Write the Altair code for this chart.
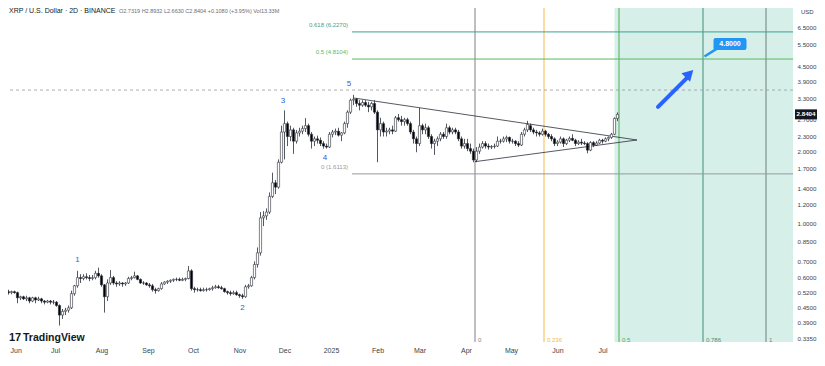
import altair as alt
import pandas as pd

# ---------------- data ----------------
candle_start = "2024-05-27"   # 2D candles

opens = [.535,.530,.525,.520,.525,.520,.495,.500,.490,.495,
         .480,.495,.485,.490,.480,.475,.480,.475,.475,.460,
         .420,.435,.440,.450,.515,.555,.600,.595,.605,.600,
         .595,.600,.625,.610,.560,.500,.570,.600,.570,.565,
         .570,.565,.570,.595,.600,.610,.590,.570,.570,.560,
         .555,.535,.530,.540,.565,.575,.580,.585,.590,.590,
         .585,.590,.595,.640,.540,.535,.535,.530,.535,.535,
         .540,.545,.550,.545,.540,.525,.520,.515,.520,.510,
         .505,.500,.550,.555,.600,.680,.760,1.06,1.08,1.12,
         1.30,1.48,1.42,1.80,2.40,2.60,2.30,2.45,2.20,2.38,
         2.42,2.48,2.55,2.35,2.20,2.25,2.22,2.15,2.10,2.08,
         2.35,2.40,2.42,2.33,2.38,2.60,2.90,3.25,3.28,3.15,
         3.10,3.18,3.10,3.05,3.15,2.90,2.45,2.60,2.40,2.42,
         2.45,2.42,2.75,2.70,2.65,2.70,2.60,2.40,2.25,2.15,
         2.55,2.45,2.50,2.30,2.15,2.20,2.25,2.35,2.30,2.50,
         2.40,2.45,2.40,2.25,2.10,2.15,2.05,2.00,1.84,2.00,
         2.08,2.15,2.10,2.08,2.09,2.10,2.20,2.20,2.25,2.28,
         2.20,2.20,2.15,2.12,2.35,2.45,2.55,2.45,2.40,2.38,
         2.35,2.42,2.35,2.30,2.25,2.15,2.18,2.25,2.15,2.22,
         2.26,2.22,2.15,2.18,2.16,2.15,2.02,2.17,2.12,2.16,
         2.22,2.20,2.25,2.28,2.35,2.7319]
highs = [.545,.540,.535,.530,.530,.525,.505,.505,.505,.500,
         .500,.500,.500,.495,.485,.485,.485,.485,.480,.465,
         .445,.450,.460,.530,.560,.640,.620,.620,.625,.615,
         .615,.640,.660,.620,.565,.590,.645,.610,.580,.580,
         .575,.575,.605,.610,.635,.615,.595,.580,.575,.570,
         .565,.545,.545,.575,.580,.585,.590,.595,.600,.600,
         .600,.600,.670,.650,.550,.545,.545,.545,.545,.545,
         .555,.560,.560,.555,.545,.530,.530,.530,.530,.515,
         .515,.560,.565,.610,.700,.800,1.12,1.13,1.16,1.35,
         1.63,1.52,1.85,2.55,2.95,2.65,2.55,2.50,2.45,2.50,
         2.55,2.74,2.60,2.40,2.30,2.32,2.28,2.20,2.15,2.40,
         2.45,2.48,2.50,2.40,2.65,2.95,3.30,3.42,3.32,3.25,
         3.25,3.25,3.20,3.20,3.25,2.95,2.75,2.65,2.50,2.50,
         2.55,2.80,2.85,2.80,2.75,2.75,2.65,2.45,2.30,3.02,
         2.60,2.60,2.55,2.35,2.25,2.30,2.40,2.40,2.60,2.55,
         2.50,2.50,2.45,2.30,2.25,2.25,2.15,2.05,2.08,2.15,
         2.20,2.20,2.15,2.12,2.15,2.30,2.25,2.30,2.32,2.30,
         2.25,2.22,2.20,2.40,2.50,2.67,2.60,2.50,2.45,2.42,
         2.48,2.45,2.38,2.35,2.28,2.22,2.30,2.28,2.25,2.30,
         2.35,2.25,2.22,2.25,2.20,2.18,2.20,2.20,2.20,2.25,
         2.25,2.28,2.30,2.38,2.76,2.8932]
lows = [.525,.515,.510,.512,.515,.470,.485,.485,.480,.470,
        .475,.470,.480,.470,.465,.470,.465,.465,.455,.380,
        .405,.420,.430,.445,.505,.545,.570,.585,.590,.580,
        .585,.590,.600,.550,.430,.480,.560,.560,.550,.555,
        .550,.555,.565,.585,.595,.585,.565,.560,.555,.545,
        .525,.515,.525,.535,.560,.565,.570,.575,.580,.580,
        .580,.580,.590,.530,.520,.525,.525,.525,.525,.530,
        .530,.540,.540,.535,.520,.510,.505,.510,.505,.495,
        .490,.495,.540,.550,.590,.660,.740,.980,1.04,1.10,
        1.28,1.33,1.40,1.78,1.85,2.10,2.20,1.95,2.15,2.30,
        2.35,2.40,2.30,2.05,2.10,2.15,2.10,2.05,2.05,2.06,
        2.28,2.33,2.30,2.20,2.35,2.50,2.85,3.10,3.05,2.95,
        3.05,3.05,2.90,2.95,2.85,1.80,2.30,2.30,2.30,2.35,
        2.35,2.40,2.65,2.55,2.55,2.55,2.35,2.15,1.98,2.10,
        2.35,2.35,2.25,2.05,1.93,2.10,2.20,2.25,2.25,2.35,
        2.35,2.35,2.20,2.05,2.05,2.00,1.95,1.80,1.80,1.95,
        2.05,2.05,2.03,2.04,2.05,2.08,2.15,2.17,2.18,2.15,
        2.15,2.10,2.08,2.10,2.30,2.40,2.40,2.35,2.30,2.30,
        2.32,2.30,2.25,2.20,2.10,2.10,2.15,2.08,2.12,2.18,
        2.20,2.10,2.12,2.12,2.12,1.96,2.00,2.08,2.10,2.14,
        2.15,2.18,2.20,2.25,2.33,2.6630]
closes = [.530,.525,.520,.525,.520,.495,.500,.490,.495,.480,
          .495,.485,.490,.480,.475,.480,.475,.475,.460,.420,
          .435,.440,.450,.515,.555,.600,.595,.605,.600,.595,
          .600,.625,.610,.560,.500,.570,.600,.570,.565,.570,
          .565,.570,.595,.600,.610,.590,.570,.570,.560,.555,
          .535,.530,.540,.565,.575,.580,.585,.590,.590,.585,
          .590,.595,.640,.540,.535,.535,.530,.535,.535,.540,
          .545,.550,.545,.540,.525,.520,.515,.520,.510,.505,
          .500,.550,.555,.600,.680,.760,1.06,1.08,1.12,1.30,
          1.48,1.42,1.80,2.40,2.60,2.30,2.45,2.20,2.38,2.42,
          2.48,2.55,2.35,2.20,2.25,2.22,2.15,2.10,2.08,2.35,
          2.40,2.42,2.33,2.38,2.60,2.90,3.25,3.28,3.15,3.10,
          3.18,3.10,3.05,3.15,2.90,2.45,2.60,2.40,2.42,2.45,
          2.42,2.75,2.70,2.65,2.70,2.60,2.40,2.25,2.15,2.55,
          2.45,2.50,2.30,2.15,2.20,2.25,2.35,2.30,2.50,2.40,
          2.45,2.40,2.25,2.10,2.15,2.05,2.00,1.84,2.00,2.08,
          2.15,2.10,2.08,2.09,2.10,2.20,2.20,2.25,2.28,2.20,
          2.20,2.15,2.12,2.35,2.45,2.58,2.45,2.40,2.38,2.35,
          2.42,2.35,2.30,2.25,2.15,2.18,2.25,2.15,2.22,2.26,
          2.22,2.15,2.18,2.16,2.15,2.02,2.17,2.12,2.16,2.22,
          2.20,2.25,2.28,2.35,2.73,2.8404]

y_ticks = [0.335, 0.39, 0.45, 0.52, 0.6, 0.7, 0.85, 1.0, 1.2, 1.4,
           1.7, 2.0, 2.3, 2.7, 3.3, 3.9, 4.5, 5.5, 6.5]
month_ticks = [(2024, m) for m in range(6, 13)] + [(2025, m) for m in range(1, 8)]

fib_time_levels = ["0", "0.236", "0.5", "0.786", "1"]
fib_time_dates = ["2025-04-07", "2025-05-23", "2025-07-12", "2025-09-06", "2025-10-18"]
fib_time_colors = ["#808080", "#f6b94a", "#4caf50", "#3f8f77", "#6f7f7a"]

fib_price_labels = ["0.618 (6.2270)", "0.5 (4.8104)", "0 (1.6113)"]
fib_price_values = [6.2270, 4.8104, 1.6113]
fib_price_colors = ["#3aa394", "#5cb85c", "#9598a1"]
fib_price_start = "2025-01-15"

ath_level = 3.58

tri_start_dates = ["2025-01-16", "2025-04-07"]
tri_start_prices = [3.32, 1.81]
tri_apex_date = "2025-07-24"
tri_apex_price = 2.225

wave_text = ["1", "2", "3", "4", "5"]
wave_dates = ["2024-07-16", "2024-11-03", "2024-11-30", "2024-12-28", "2025-01-13"]
wave_prices = [0.71, 0.449, 3.23, 1.875, 3.79]

shade_start = "2025-07-09"
far_right = "2026-03-01"   # drawings extended to the right edge (clipped)

arrow_dates = ["2025-08-07", "2025-08-27"]
arrow_prices = [3.05, 4.06]
arrow_head_date = "2025-08-28"
arrow_head_price = 4.18

target_text = "4.8000"
target_box_dates = ["2025-09-13", "2025-10-05"]
target_box_prices = [5.88, 5.24]
target_text_date = "2025-09-24"
target_text_price = 5.56
target_ptr_dates = ["2025-09-15", "2025-09-07"]
target_ptr_prices = [5.30, 4.93]

last_close_text = "2.8404"
header_main = "XRP / U.S. Dollar · 2D · BINANCE"
header_ohlc = "O2.7319 H2.8932 L2.6630 C2.8404 +0.1080 (+3.95%) Vol13.33M"

# ---------------- chart ----------------
W, H = 785, 334
FONT = "Liberation Sans"

dates = pd.date_range(candle_start, periods=len(closes), freq="2D").strftime("%Y-%m-%d").tolist()
candles = pd.DataFrame({"date": dates, "open": opens, "high": highs, "low": lows, "close": closes})
candles["dir"] = ["up" if c >= o else "down" for o, c in zip(opens, closes)]

xscale = alt.Scale(type="utc", padding=0, nice=False,
                   domain=[alt.DateTime(year=2024, month=5, date=30, hours=16, utc=True),
                           alt.DateTime(year=2025, month=11, date=5, hours=0, utc=True)])
yscale = alt.Scale(type="log", domain=[0.325, 7.82], nice=False, padding=0)

xaxis = alt.Axis(values=[alt.DateTime(year=y, month=m, date=1, utc=True) for y, m in month_ticks],
                 labelExpr="utcFormat(datum.value, '%m') == '01' ? utcFormat(datum.value, '%Y') : utcFormat(datum.value, '%b')",
                 labelPadding=4, labelFontSize=7, labelColor="#3b3f4a", labelFlush=6, title=None)
yaxis = alt.Axis(orient="right", values=y_ticks, format=".4f", labelPadding=4,
                 labelFontSize=6.2, labelColor="#3b3f4a", title=None)


def X(f="date"):
    return alt.X(f"{f}:T", scale=xscale, axis=xaxis, title=None)


def Y(f):
    return alt.Y(f"{f}:Q", scale=yscale, axis=yaxis, title=None)


shade = alt.Chart(pd.DataFrame({"date": [shade_start], "date2": [far_right]})).mark_rect(
    color="#d6efe9", clip=True).encode(x=X(), x2="date2:T", y=alt.value(0), y2=alt.value(H))

ft = pd.DataFrame({"date": fib_time_dates, "lab": fib_time_levels, "col": fib_time_colors})
ftime_lines = alt.Chart(ft).mark_rule(strokeWidth=1, clip=True).encode(
    x=X(), color=alt.Color("col:N", scale=None))
ftime_text = alt.Chart(ft).mark_text(align="left", baseline="middle", dx=3, fontSize=6,
                                     font=FONT).encode(
    x=X(), y=alt.value(H - 2), text="lab:N", color=alt.Color("col:N", scale=None))

fp = pd.DataFrame({"date": [fib_price_start] * 3, "date2": [far_right] * 3,
                   "price": fib_price_values, "lab": fib_price_labels, "col": fib_price_colors})
fprice_lines = alt.Chart(fp).mark_rule(strokeWidth=1, clip=True).encode(
    x=X(), x2="date2:T", y=Y("price"), color=alt.Color("col:N", scale=None))
fprice_text = alt.Chart(fp).mark_text(align="right", baseline="middle", dx=-4, dy=-7,
                                      fontSize=6, font=FONT).encode(
    x=X(), y=Y("price"), text="lab:N", color=alt.Color("col:N", scale=None))

ath = alt.Chart(pd.DataFrame({"price": [ath_level]})).mark_rule(
    strokeDash=[3, 3], color="#9598a1", strokeWidth=0.8).encode(y=Y("price"))

tri = pd.DataFrame({"date": tri_start_dates, "price": tri_start_prices,
                    "date2": [tri_apex_date] * 2, "price2": [tri_apex_price] * 2})
tri_lines = alt.Chart(tri).mark_rule(color="#2a2e39", strokeWidth=0.8).encode(
    x=X(), x2="date2:T", y=Y("price"), y2="price2:Q")

wick = alt.Chart(candles).mark_rule(color="#2a2e39", strokeWidth=0.8, clip=True).encode(
    x=X(), y=Y("low"), y2="high:Q")
body = alt.Chart(candles).mark_bar(size=2.2, stroke="#2a2e39", strokeWidth=0.6, clip=True).encode(
    x=X(), y=Y("open"), y2="close:Q",
    fill=alt.Fill("dir:N", scale=alt.Scale(domain=["up", "down"], range=["#ffffff", "#000000"]),
                  legend=None))

waves = alt.Chart(pd.DataFrame({"date": wave_dates, "price": wave_prices, "t": wave_text})).mark_text(
    color="#2f5bd3", fontSize=8, font=FONT).encode(x=X(), y=Y("price"), text="t:N")

arrow = alt.Chart(pd.DataFrame({"date": [arrow_dates[0]], "price": [arrow_prices[0]],
                                "date2": [arrow_dates[1]], "price2": [arrow_prices[1]]})).mark_rule(
    color="#2962ff", strokeWidth=4, strokeCap="round").encode(
    x=X(), x2="date2:T", y=Y("price"), y2="price2:Q")
arrow_head = alt.Chart(pd.DataFrame({"date": [arrow_head_date], "price": [arrow_head_price]})).mark_point(
    shape="triangle-up", filled=True, color="#2962ff", size=150, angle=45, opacity=1).encode(
    x=X(), y=Y("price"))

ptr = alt.Chart(pd.DataFrame({"date": [target_ptr_dates[0]], "price": [target_ptr_prices[0]],
                              "date2": [target_ptr_dates[1]], "price2": [target_ptr_prices[1]]})).mark_rule(
    color="#2196f3", strokeWidth=2.5).encode(x=X(), x2="date2:T", y=Y("price"), y2="price2:Q")
box = alt.Chart(pd.DataFrame({"date": [target_box_dates[0]], "date2": [target_box_dates[1]],
                              "price": [target_box_prices[0]], "price2": [target_box_prices[1]]})).mark_rect(
    color="#2196f3", cornerRadius=2).encode(x=X(), x2="date2:T", y=Y("price"), y2="price2:Q")
box_text = alt.Chart(pd.DataFrame({"date": [target_text_date], "price": [target_text_price],
                                   "t": [target_text]})).mark_text(
    color="white", fontSize=7, fontWeight="bold", font=FONT).encode(x=X(), y=Y("price"), text="t:N")

last_df = pd.DataFrame({"price": [closes[-1]], "t": [last_close_text]})
last_box = alt.Chart(last_df).mark_tick(orient="horizontal", thickness=10, size=22,
                                        color="#131722", opacity=1).encode(
    x=alt.value(W + 13), y=Y("price"))
last_text = alt.Chart(last_df).mark_text(color="white", fontSize=6.2, fontWeight="bold",
                                         font=FONT).encode(
    x=alt.value(W + 13), y=Y("price"), text="t:N")

usd = alt.Chart(pd.DataFrame({"t": ["USD"]})).mark_text(
    fontSize=6, color="#3b3f4a", align="left", baseline="middle", font=FONT).encode(
    x=alt.value(W + 8), y=alt.value(4), text="t:N")

head1 = alt.Chart(pd.DataFrame({"t": [header_main]})).mark_text(
    fontSize=7, color="#131722", align="left", baseline="middle", font=FONT).encode(
    x=alt.value(1), y=alt.value(3), text="t:N")
head2 = alt.Chart(pd.DataFrame({"t": [header_ohlc]})).mark_text(
    fontSize=5.5, color="#6a6d78", align="left", baseline="middle", font=FONT).encode(
    x=alt.value(111), y=alt.value(3), text="t:N")

logo1 = alt.Chart(pd.DataFrame({"t": ["17"]})).mark_text(
    fontSize=11, color="#131722", fontWeight="bold", align="left", baseline="middle",
    font=FONT).encode(x=alt.value(1), y=alt.value(H - 4), text="t:N")
logo2 = alt.Chart(pd.DataFrame({"t": ["TradingView"]})).mark_text(
    fontSize=10.5, color="#131722", fontWeight=600, align="left", baseline="middle",
    font=FONT).encode(x=alt.value(15), y=alt.value(H - 4), text="t:N")

chart = alt.layer(
    shade, ftime_lines, ftime_text, fprice_lines, fprice_text, ath, tri_lines,
    wick, body, waves, arrow, arrow_head, ptr, box, box_text,
    last_box, last_text, usd, head1, head2, logo1, logo2
).properties(
    width=W, height=H,
    padding={"left": 0, "top": 0, "right": 24, "bottom": 14},
    autosize=alt.AutoSizeParams(type="none"),
    background="white",
).configure_view(stroke=None).configure_axis(
    grid=False, domain=False, ticks=False, labelFont=FONT
)

chart.save("out.html", embed_options={"renderer": "svg", "actions": False})
